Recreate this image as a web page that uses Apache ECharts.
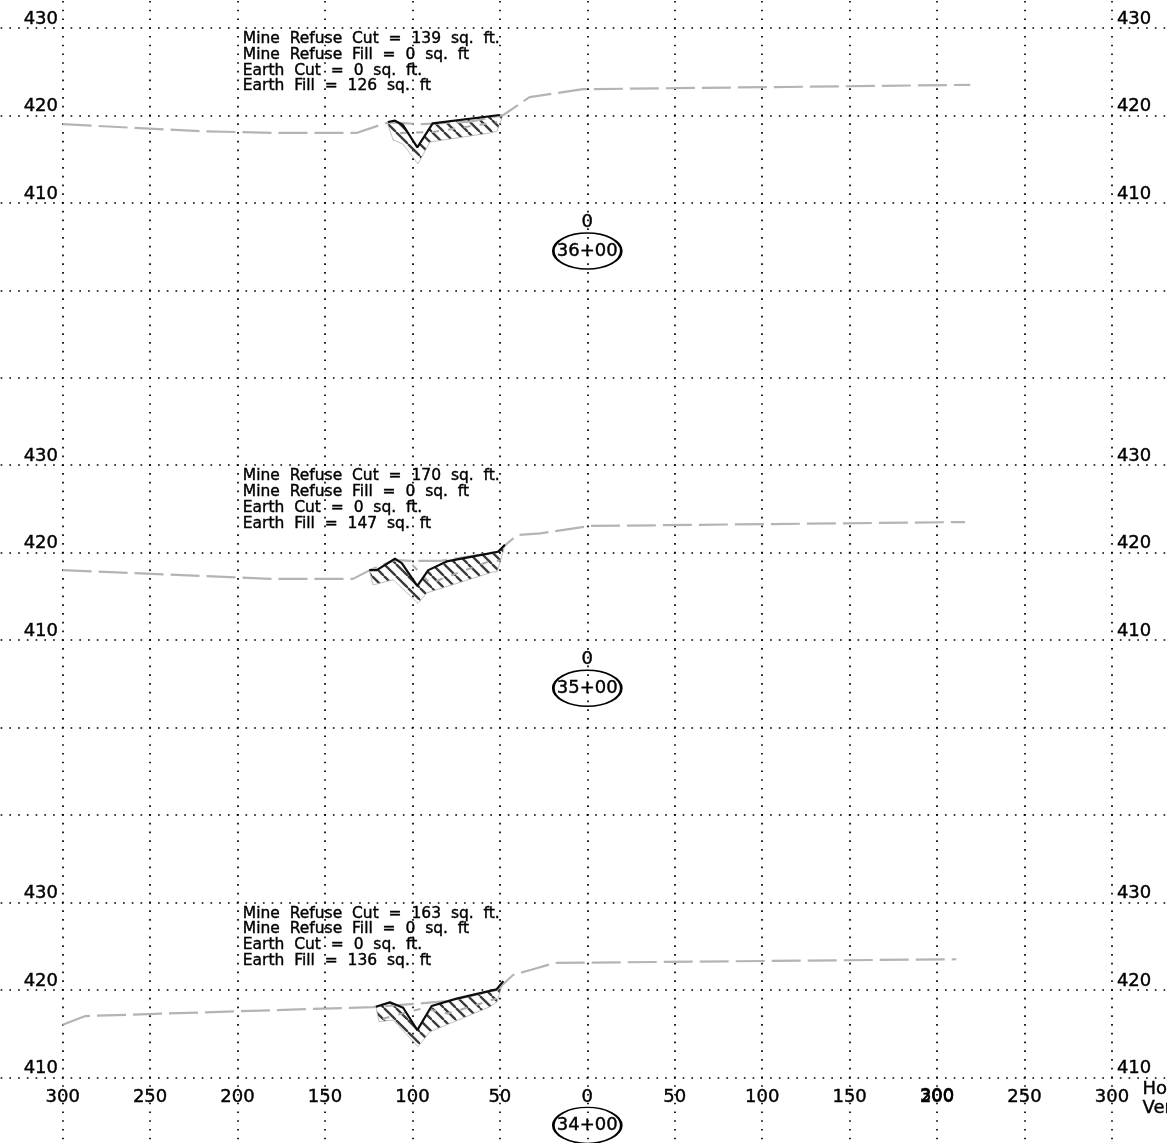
<!DOCTYPE html>
<html><head><meta charset="utf-8">
<style>html,body{margin:0;padding:0;background:#fff;overflow:hidden}#c{width:1167px;height:1143px}</style>
<script src="https://cdn.jsdelivr.net/npm/echarts@6/dist/echarts.min.js"></script>
</head><body><div id="c"></div>
<script>
const stations = ['36+00','35+00','34+00'];
const notes1 = ['Mine  Refuse  Cut  =  139  sq.  ft.','Mine  Refuse  Fill  =  0  sq.  ft','Earth  Cut  =  0  sq.  ft.','Earth  Fill  =  126  sq.  ft'];
const notes2 = ['Mine  Refuse  Cut  =  170  sq.  ft.','Mine  Refuse  Fill  =  0  sq.  ft','Earth  Cut  =  0  sq.  ft.','Earth  Fill  =  147  sq.  ft'];
const notes3 = ['Mine  Refuse  Cut  =  163  sq.  ft.','Mine  Refuse  Fill  =  0  sq.  ft','Earth  Cut  =  0  sq.  ft.','Earth  Fill  =  136  sq.  ft'];
const ground1 = [[-300,419.0],[-221.5,418.2],[-178.6,418.0],[-132,418.0],[-114,419.2],[-94,419.0],[-67,419.3],[-48,420.05],[-33,422.1],[-2.5,423.0],[219,423.5]];
const ground2 = [[-300,418.0],[-181.4,417.0],[-134,417.0],[-124.3,418.0],[-110,419.15],[-99.7,419.05],[-84.2,419.05],[-51.6,420.07],[-40.2,422.0],[-27,422.2],[1.5,423.05],[216,423.5]];
const ground3 = [[-300,416.0],[-287,417.0],[-122.5,418.03],[-80.2,418.7],[-51.6,419.98],[-42.5,421.7],[-32,422.3],[-18.5,423.08],[211,423.5]];
const existing1 = [[-114,419.25],[-110,419.4],[-105.4,418.9],[-97.2,416.35],[-88.4,419.1],[-50,420.05]];
const existing2 = [[-124.7,418.0],[-120.4,418.0],[-110,419.3],[-106.1,418.8],[-97.2,416.2],[-90.9,418.0],[-80.4,419.0],[-57.5,419.85],[-50.9,420.1],[-47.1,420.9]];
const existing3 = [[-120.9,418.07],[-112.9,418.57],[-105.3,417.95],[-97.2,415.4],[-89,418.15],[-74.7,419.0],[-51.9,420.05],[-48,421.0]];
const cutBase1 = [[-114,418.9],[-111,417.2],[-105.4,416.73],[-96.8,414.45],[-90,416.96],[-55.6,418.0],[-51.6,418.2],[-48.2,420.05]];
const cutBase2 = [[-122.5,416.3],[-111,416.9],[-96.8,414.2],[-91.7,415.4],[-53.9,417.8],[-51.6,417.8],[-48.2,420.07]];
const cutBase3 = [[-119.1,416.36],[-111,416.55],[-96.8,413.5],[-90,415.2],[-55.6,418.07],[-51.6,418.65],[-48,421.0]];
const grade1 = [[-107,418.0],[-88.4,418.1],[-51.6,419.25]];
const grade2 = [[-100,418.6],[-90,416.5],[-57.5,418.9],[-50,419.1]];
const grade3 = [[-117,416.7],[-94,417.9],[-80,417.3],[-68,418.0],[-52,419.0]];
const xTicks = [-300,-250,-200,-150,-100,-50,0,50,100,150,200,250,300];
const yTicks = [410,420,430];

const sets = [
  {ground:ground1,existing:existing1,base:cutBase1,grade:grade1,notes:notes1},
  {ground:ground2,existing:existing2,base:cutBase2,grade:grade2,notes:notes2},
  {ground:ground3,existing:existing3,base:cutBase3,grade:grade3,notes:notes3}
];
const FONT='"DejaVu Sans"';
const PX=1.7488, CX=587.3, ROW=437.2;
const dots={type:[1.7,7.044],dashOffset:0.85,color:'#000',width:1.7,cap:'butt'};
const ink={color:'#000',textBorderColor:'#000',textBorderWidth:0.4};

const tile=document.createElement('canvas');tile.width=12;tile.height=12;
const t=tile.getContext('2d');t.strokeStyle='#3a3a3a';t.lineWidth=2.3;
[-12,0,12].forEach(o=>{t.beginPath();t.moveTo(o,0);t.lineTo(o+12,12);t.stroke();});
const hatch={image:tile,repeat:'repeat'};

const chart=echarts.init(document.getElementById('c'),null,{renderer:'canvas'});
const grid=[],xAxis=[],yAxis=[],series=[];
sets.forEach((s,i)=>{
  grid.push({outerBoundsMode:'none',left:CX-350*PX,width:700*PX,top:28+ROW*i-87.44,height:ROW,containLabel:false,show:false});
  xAxis.push({gridIndex:i,type:'value',min:-350,max:350,interval:50,position:'bottom',offset:-164.3,
    axisLine:{show:false},axisTick:{show:false},splitLine:{show:true,lineStyle:dots},
    axisLabel:Object.assign({show:true,margin:0,fontFamily:FONT,fontSize:18,hideOverlap:false,showMinLabel:true,showMaxLabel:true,
      formatter:v=>{ if(!xTicks.includes(v))return ''; if(i<2)return v===0?'0':''; return String(Math.abs(v)); }},ink)});
  const lab=(v)=>yTicks.includes(v)?String(v):'';
  yAxis.push({gridIndex:i,type:'value',min:390,max:440,interval:10,position:'left',offset:-(58+24.78),
    axisLine:{show:false},axisTick:{show:false},splitLine:{show:true,showMaxLine:i===0,lineStyle:dots},
    axisLabel:Object.assign({margin:0,align:'right',verticalAlign:'bottom',fontFamily:FONT,fontSize:18,formatter:lab,showMinLabel:true,showMaxLabel:true},ink)});
  yAxis.push({gridIndex:i,type:'value',min:390,max:440,interval:10,position:'right',offset:-(1199.5-1117),
    axisLine:{show:false},axisTick:{show:false},splitLine:{show:false},
    axisLabel:Object.assign({margin:0,align:'left',verticalAlign:'bottom',fontFamily:FONT,fontSize:18,formatter:lab,showMinLabel:true,showMaxLabel:true},ink)});
  const yi=i*2;
  series.push({type:'custom',xAxisIndex:i,yAxisIndex:yi,silent:true,clip:false,z:2,animation:false,
    data:s.existing.concat(s.base.slice().reverse()),
    renderItem:(p,api)=>{
      if(p.dataIndex!==0)return null;
      const pts=s.existing.concat(s.base.slice().reverse()).map(d=>api.coord(d));
      return {type:'polygon',shape:{points:pts},style:{fill:hatch,stroke:'#b0b0b0',lineWidth:0.8}};
    }});
  series.push({type:'line',xAxisIndex:i,yAxisIndex:yi,data:s.grade,symbol:'none',silent:true,z:3,animation:false,
    lineStyle:{color:'#aaaaaa',width:2,type:[7,9]}});
  series.push({type:'line',xAxisIndex:i,yAxisIndex:yi,data:s.ground,symbol:'none',silent:true,z:4,animation:false,
    lineStyle:{color:'#b4b4b4',width:2.2,type:[29,7]}});
  series.push({type:'line',xAxisIndex:i,yAxisIndex:yi,data:s.existing,symbol:'none',silent:true,z:5,animation:false,
    lineStyle:{color:'#0c0c0c',width:2.2}});
  series.push({type:'scatter',xAxisIndex:i,yAxisIndex:yi,silent:true,z:6,animation:false,clip:false,
    symbolSize:0,itemStyle:{opacity:1},
    data:s.notes.map((n,k)=>({value:[-197,428.72-1.8*k],name:n})),
    label:Object.assign({show:true,position:'right',distance:0,formatter:'{b}',fontFamily:FONT,fontSize:15.5},ink)});
  series.push({type:'scatter',xAxisIndex:i,yAxisIndex:yi,silent:true,z:6,animation:false,clip:false,
    symbol:'circle',symbolSize:[68,36],itemStyle:{color:'rgba(0,0,0,0)',borderColor:'#000',borderWidth:2,opacity:1},
    data:[{value:[0,404.5],name:stations[i]}],
    label:Object.assign({show:true,position:'inside',formatter:'{b}',fontFamily:FONT,fontSize:18},ink)});
});
series.push({type:'scatter',xAxisIndex:2,yAxisIndex:4,silent:true,z:6,animation:false,clip:false,symbolSize:0,itemStyle:{opacity:1},
  data:[{value:[200,407.8],name:'300'}],
  label:Object.assign({show:true,position:'inside',formatter:'{b}',fontFamily:FONT,fontSize:18},ink)});
series.push({type:'scatter',xAxisIndex:2,yAxisIndex:4,silent:true,z:6,animation:false,clip:false,symbolSize:0,itemStyle:{opacity:1},
  data:[{value:[317.5,408.6],name:'Ho'},{value:[317.5,406.4],name:'Ver'}],
  label:Object.assign({show:true,position:'right',distance:0,formatter:'{b}',fontFamily:FONT,fontSize:18},ink)});
chart.setOption({animation:false,backgroundColor:'#fff',grid,xAxis,yAxis,series,tooltip:{show:false},legend:{show:false}});
</script></body></html>
